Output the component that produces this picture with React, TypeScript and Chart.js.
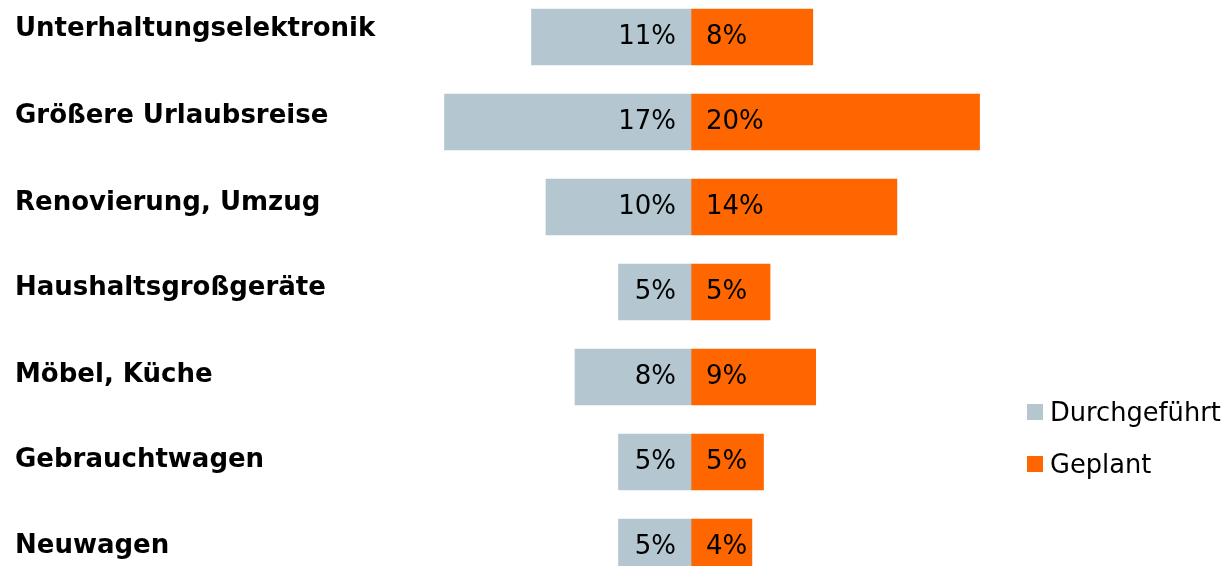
import React, { useEffect, useRef } from "react";
import { Chart, registerables } from "chart.js";

Chart.register(...registerables);

const categories = [
  "Unterhaltungselektronik",
  "Größere Urlaubsreise",
  "Renovierung, Umzug",
  "Haushaltsgroßgeräte",
  "Möbel, Küche",
  "Gebrauchtwagen",
  "Neuwagen",
];
const durchgefuehrt = [11, 17, 10, 5, 8, 5, 5];
const geplant = [8.4, 19.9, 14.2, 5.45, 8.6, 5, 4.2];
const seriesLabels = ["Durchgeführt", "Geplant"];
const seriesColors = ["#b4c7d0", "#ff6600"];

const FONT = "'DejaVu Sans', Verdana, sans-serif";
const LABEL_SIZE = 26;
// small upward nudge of each category label (px), matching the reference's label placement
const labelNudge = [7.9, 6.2, 4.2, 4.0, 2.0, 1.4, 1.2];

const valueLabelPlugin = {
  id: "valueLabels",
  afterDatasetsDraw(chart: any) {
    const ctx = chart.ctx;
    ctx.save();
    ctx.font = `26px ${FONT}`;
    ctx.fillStyle = "#000";
    ctx.textBaseline = "middle";
    chart.data.datasets.forEach((ds: any, di: number) => {
      const meta = chart.getDatasetMeta(di);
      meta.data.forEach((el: any, i: number) => {
        const v = Math.abs(ds.data[i]);
        const txt = `${Math.round(v)}%`;
        if (di === 0) {
          ctx.textAlign = "right";
          ctx.fillText(txt, el.base - 15, el.y);
        } else {
          ctx.textAlign = "left";
          ctx.fillText(txt, el.base + 15, el.y);
        }
      });
    });
    ctx.restore();
  },
};

export default function App() {
  const canvasRef = useRef<HTMLCanvasElement | null>(null);

  useEffect(() => {
    document.body.style.margin = "0";
    document.body.style.overflow = "hidden";
    const canvas = canvasRef.current;
    if (!canvas) return;
    const chart = new Chart(canvas, {
      type: "bar",
      data: {
        labels: categories,
        datasets: [
          {
            label: seriesLabels[0],
            data: durchgefuehrt.map((v) => -v),
            backgroundColor: seriesColors[0],
            barThickness: 56,
            clip: false as any,
          },
          {
            label: seriesLabels[1],
            data: geplant,
            backgroundColor: seriesColors[1],
            barThickness: 56,
            clip: false as any,
          },
        ],
      },
      options: {
        indexAxis: "y",
        animation: false,
        responsive: true,
        maintainAspectRatio: false,
        layout: { padding: { left: 15, right: 215, top: 37, bottom: 19 } },
        plugins: {
          legend: { display: false },
          tooltip: { enabled: false },
        },
        scales: {
          x: {
            stacked: true,
            display: false,
            min: -18,
            max: 22,
          },
          y: {
            stacked: true,
            offset: false,
            grid: { display: false },
            border: { display: false },
            afterFit: (scale: any) => {
              scale.width = 415;
            },
            ticks: {
              crossAlign: "far",
              color: "#000",
              font: (c: any) => ({
                family: FONT,
                size: LABEL_SIZE,
                weight: "bold",
                lineHeight: (2 * (labelNudge[c.index] ?? 0)) / LABEL_SIZE,
              }),
              callback: function (this: any, value: any) {
                return [this.getLabelForValue(value), ""];
              },
            },
          },
        },
      },
      plugins: [valueLabelPlugin],
    });
    return () => chart.destroy();
  }, []);

  return (
    <div style={{ position: "relative", width: 1225, height: 566, background: "#fff" }}>
      <canvas ref={canvasRef} />
      <div
        style={{
          position: "absolute",
          left: 1027,
          top: 386,
          fontFamily: FONT,
          fontSize: 25.7,
          color: "#000",
        }}
      >
        {seriesLabels.map((l, i) => (
          <div key={l} style={{ display: "flex", alignItems: "center", height: 52 }}>
            <span
              style={{
                display: "inline-block",
                width: 16,
                height: 16,
                background: seriesColors[i],
                marginRight: 7,
              }}
            />
            <span>{l}</span>
          </div>
        ))}
      </div>
    </div>
  );
}
